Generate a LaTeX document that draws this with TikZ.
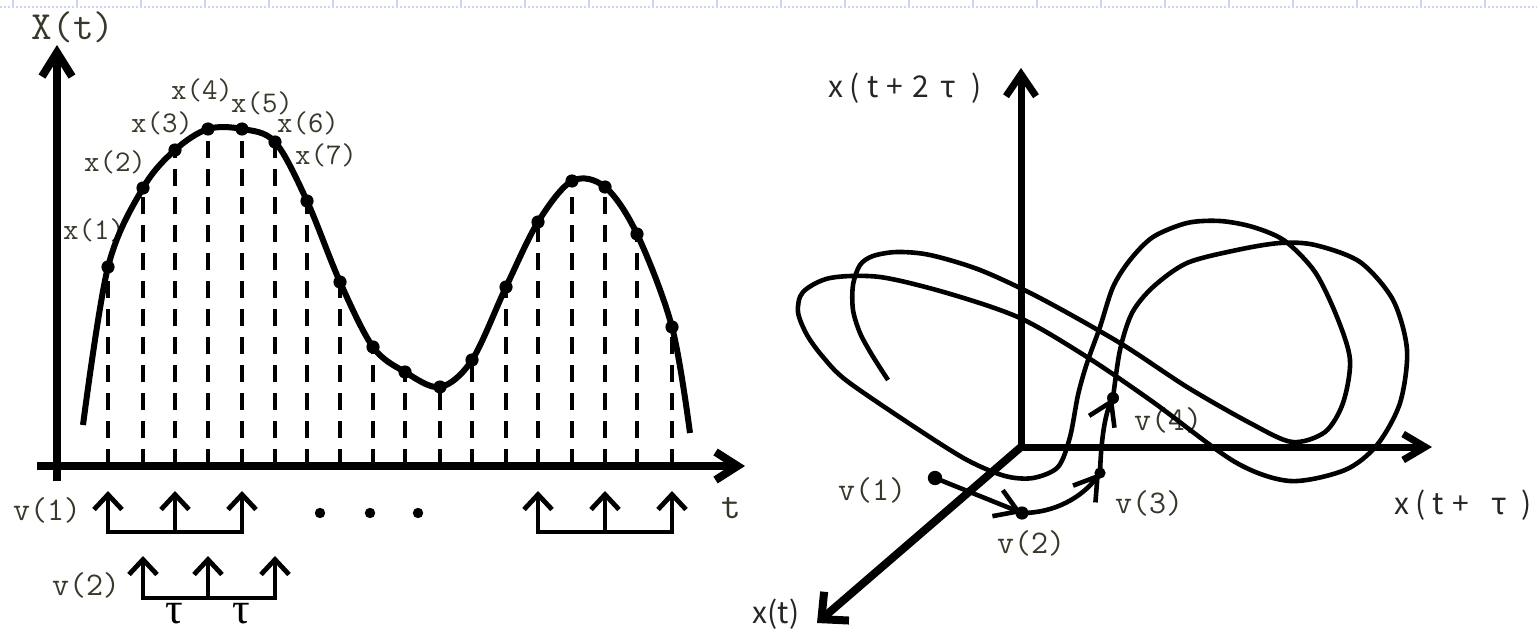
\documentclass[tikz,border=0pt]{standalone}
\usepackage{fontspec}
\newfontfamily\goth{Noto Sans CJK JP}
\newfontfamily\tauf{Liberation Serif}
\usetikzlibrary{arrows.meta}
\definecolor{lbl}{RGB}{55,55,42}
\definecolor{faint}{RGB}{205,214,240}
\newcommand{\gch}[2]{\makebox[#1]{#2}}
\begin{document}
\begin{tikzpicture}[x=0.5pt,y=-0.5pt,
  lab/.style={font=\ttfamily\fontsize{15}{16}\selectfont,text=lbl,inner sep=0pt},
  vlab/.style={font=\ttfamily\fontsize{16.5}{17}\selectfont,text=lbl,inner sep=0pt},
  gothlab/.style={font=\goth\fontsize{15}{16}\selectfont,text=black!85,inner sep=0pt},
  samp/.style={line width=2pt,dash pattern=on 8.5pt off 5.5pt},
  wave/.style={line width=3pt,line join=round},
  axisA/.style={line width=4pt},
  bracket/.style={line width=2.2pt,line cap=rect},
  up/.style={line width=2.4pt,-{Straight Barb[length=7.5pt,width=14pt]}},
  axisB/.style={line width=3.5pt},
  traj/.style={line width=2.3pt,line join=round},
  tarr/.style={line width=2.3pt,-{Straight Barb[length=11pt,width=14pt]}}
]
\useasboundingbox (0,0) rectangle (1537,631);

% faint slide border at top
\draw[faint,line width=0.6pt,dash pattern=on 1pt off 1pt] (0,7) -- (1537,7);
\foreach \k in {0,...,23} \draw[faint,line width=0.6pt] ({13+64*\k},0) -- ({13+64*\k},7);

% ---------------- left: time series ----------------
\node[lab] (lx1) at (94,230) {x(1)};
\node[lab] (lx2) at (115,162) {x(2)};
\node[lab] (lx3) at (162,123) {x(3)};
\node[lab] (lx4) at (202,90) {x(4)};
\node[lab] (lx5) at (262,103) {x(5)};
\node[lab] (lx6) at (308,123) {x(6)};
\node[lab] (lx7) at (326,155) {x(7)};

\foreach \i/\x/\y in {1/108/267,2/143/188,3/175/150,4/208/129,5/242/129,6/275/142,
  7/307/201,8/340/282,9/373/347,10/405/372,11/440/387,12/472/360,13/506/287,
  14/538/222,15/572/181,16/605/187,17/637/234,18/672/327}{
  \coordinate (s\i) at (\x,\y);
  \coordinate (b\i) at (\x,466);
  \draw[samp] (b\i) -- (s\i);
}

\draw[wave] plot[smooth,tension=0.55] coordinates {(83,425) (108,267) (143,188) (175,150)
  (208,129) (242,129) (275,142) (307,201) (340,282) (373,347) (405,372) (440,387)
  (472,360) (506,287) (538,222) (572,181) (605,187) (637,234) (672,327) (690,433)};

\foreach \i in {1,...,18} \fill (s\i) circle[radius=3.3pt];

\coordinate (yb) at (57,481);
\coordinate (yt) at (57,45);
\coordinate (xl) at (37,466);
\coordinate (xr) at (745,466);
\draw[axisA,-{Straight Barb[length=12pt,width=15pt]}] (yb) -- (yt);
\draw[axisA,-{Straight Barb[length=11pt,width=14pt]}] (xl) -- (xr);

\node[font=\ttfamily\fontsize{20}{20}\selectfont,text=lbl,inner sep=0pt] (Xt) at (73,27) {X(t)};
\node[font=\ttfamily\fontsize{19}{19}\selectfont,text=lbl,inner sep=0pt] (tl) at (731,508) {t};

% embedding vectors
\node[vlab] (lv1a) at (47,510) {v(1)};
\node[vlab] (lv2a) at (86,585) {v(2)};

\coordinate (g1l) at (108,532); \coordinate (g1r) at (242,532);
\draw[bracket] (g1l) -- (g1r);
\foreach \x in {108,175,242} \draw[up] (\x,532) -- (\x,491);

\coordinate (g2l) at (143,598); \coordinate (g2r) at (275,598);
\draw[bracket] (g2l) -- (g2r);
\foreach \x in {143,208,275} \draw[up] (\x,598) -- (\x,556);

\coordinate (g3l) at (538,532); \coordinate (g3r) at (672,532);
\draw[bracket] (g3l) -- (g3r);
\foreach \x in {538,605,672} \draw[up] (\x,532) -- (\x,491);

\foreach \x in {320,370,418} \fill (\x,513) circle[radius=2.6pt];

\node[font=\tauf\fontsize{22}{22}\selectfont,inner sep=0pt,anchor=north] (tau1) at (174,603) {τ};
\node[font=\tauf\fontsize{22}{22}\selectfont,inner sep=0pt,anchor=north] (tau2) at (241,603) {τ};

% ---------------- right: reconstructed attractor ----------------
\node[vlab] (lv1) at (872,490) {v(1)};
\node[vlab] (lv2) at (1031,543) {v(2)};
\node[vlab] (lv3) at (1149,503) {v(3)};
\node[vlab] (lv4) at (1168,420) {v(4)};

\node[gothlab] (ax3) at (908,88) {\gch{10.5pt}{x}\gch{8.5pt}{(}\gch{9.5pt}{t}\gch{12.5pt}{+}\gch{13.5pt}{2}\gch{14pt}{τ}\gch{14pt}{)}};
\node[gothlab] (ax2) at (1466,505) {\gch{10.5pt}{x}\gch{8.5pt}{(}\gch{9.5pt}{t}\gch{12.5pt}{+}\gch{6pt}{ }\gch{14pt}{τ}\gch{14pt}{)}};
\node[gothlab] (ax1) at (776,614) {x(t)};

\coordinate (O) at (1021,447);
\coordinate (zt) at (1021,68);
\coordinate (yr) at (1432,447);
\coordinate (xd) at (817,623);
\draw[axisB,-{Straight Barb[length=11pt,width=15pt]}] (O) -- (zt);
\draw[axisB,-{Straight Barb[length=11pt,width=13pt]}] (O) -- (yr);
\draw[axisB,line width=4pt,-{Straight Barb[length=10pt,width=19pt]}] (O) -- (xd);

\coordinate (v1) at (935,478);
\coordinate (v2) at (1022,513);
\coordinate (v3) at (1100,473);
\coordinate (v4) at (1113,398);

\draw[traj] plot[smooth,tension=0.5] coordinates {(1113,398) (1120,350) (1132,313)
  (1153,287) (1187,263) (1237,250) (1280,243) (1315,245) (1360,262) (1393,300)
  (1407,350) (1400,403) (1377,445) (1345,470) (1290,481) (1235,462) (1153,402)
  (1087,357) (1020,318) (947,293) (880,277) (830,278) (803,292) (798,312) (807,335)
  (823,357) (847,381) (916,428) (967,460) (1005,476) (1033,478) (1058,467) (1070,437)
  (1078,395) (1087,363) (1100,327) (1113,287) (1130,260) (1153,237) (1187,223)
  (1220,221) (1253,227) (1285,241) (1315,272) (1337,317) (1350,360) (1343,403)
  (1325,432) (1292,442) (1250,423) (1187,387) (1120,343) (1040,298) (980,270)
  (930,255) (897,252) (873,256) (860,265) (853,285) (853,310) (860,333) (872,355)
  (888,380)};

\draw[tarr] (v1) -- (v2);
\draw[tarr] (v2) .. controls (1055,513) and (1082,497) .. (v3);
\draw[tarr] (v3) .. controls (1101,440) and (1105,415) .. (v4);

\fill (v1) circle[radius=3.6pt];
\fill (v2) circle[radius=3.3pt];
\fill (v3) circle[radius=2.8pt];
\fill (v4) circle[radius=3pt];
\end{tikzpicture}
\end{document}
